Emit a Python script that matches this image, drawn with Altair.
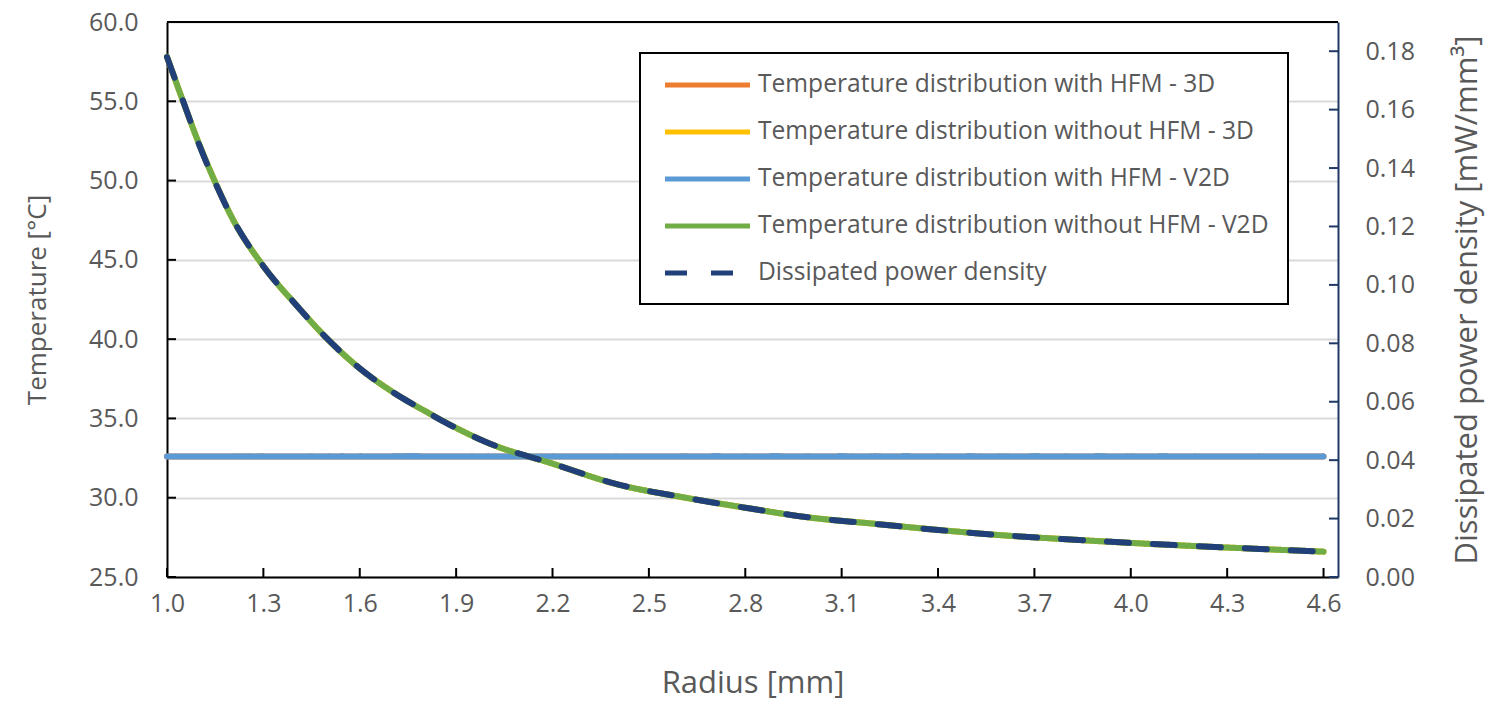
import altair as alt
import pandas as pd

# ---------------- data ----------------
radius = [1.0, 1.05, 1.1, 1.15, 1.2, 1.3, 1.4, 1.5, 1.6, 1.7, 1.8, 1.9, 2.0,
          2.2, 2.4, 2.6, 2.8, 3.0, 3.2, 3.4, 3.6, 3.8, 4.0, 4.2, 4.4, 4.6]

temp_without_v2d = [57.8, 55.0, 52.3, 49.9, 47.75, 44.6, 42.2, 40.0, 38.15, 36.7,
                    35.5, 34.4, 33.45, 32.15, 30.85, 30.05, 29.37, 28.75, 28.36,
                    27.97, 27.63, 27.38, 27.15, 26.95, 26.77, 26.6]
temp_without_3d = [57.8, 55.0, 52.3, 49.9, 47.75, 44.6, 42.2, 40.0, 38.15, 36.7,
                   35.5, 34.4, 33.45, 32.15, 30.85, 30.05, 29.37, 28.75, 28.36,
                   27.97, 27.63, 27.38, 27.15, 26.95, 26.77, 26.6]
temp_with_v2d = [32.6] * len(radius)
temp_with_3d = [32.6] * len(radius)

power_density = [0.178, 0.163, 0.148, 0.135, 0.1235, 0.1064, 0.0934, 0.0814,
                 0.0714, 0.0635, 0.057, 0.051, 0.0459, 0.0388, 0.0318, 0.0274,
                 0.0237, 0.0204, 0.0182, 0.0161, 0.0143, 0.0129, 0.0117,
                 0.0106, 0.0096, 0.0087]

series = ["Temperature distribution with HFM - 3D",
          "Temperature distribution without HFM - 3D",
          "Temperature distribution with HFM - V2D",
          "Temperature distribution without HFM - V2D",
          "Dissipated power density"]
colors = ["#ED7D31", "#FFC000", "#5B9BD5", "#70AD47", "#213F78"]
dashes = [[1, 0], [1, 0], [1, 0], [1, 0], [22, 24]]

x_ticks = [1.0, 1.3, 1.6, 1.9, 2.2, 2.5, 2.8, 3.1, 3.4, 3.7, 4.0, 4.3, 4.6]
t_ticks = [25, 30, 35, 40, 45, 50, 55, 60]
p_ticks = [0.0, 0.02, 0.04, 0.06, 0.08, 0.10, 0.12, 0.14, 0.16, 0.18]

# ---------------- tables ----------------
temp_rows = []
for s, vals in zip(series[:4], [temp_with_3d, temp_without_3d, temp_with_v2d, temp_without_v2d]):
    for r, v in zip(radius, vals):
        temp_rows.append({"radius": r, "value": v, "series": s})
temp_df = pd.DataFrame(temp_rows)
power_df = pd.DataFrame({"radius": radius, "value": power_density, "series": series[4]})

W, H = 1171, 555
FONT = "Open Sans"
GRAY = "#595959"
NAVY = "#203864"

xscale = alt.Scale(domain=[1.0, 4.645], nice=False, zero=False)
tscale = alt.Scale(domain=[25, 60], nice=False, zero=False)
pscale = alt.Scale(domain=[0, 0.19], nice=False, zero=True)
cscale = alt.Scale(domain=series, range=colors)
dscale = alt.Scale(domain=series, range=dashes)

legend = alt.Legend(title=None, orient="none", legendX=473, legendY=31,
                    symbolType="M-0.667,0H7.43", symbolSize=441, symbolStrokeWidth=5,
                    labelFont=FONT, labelFontSize=24.6, labelColor=GRAY,
                    labelOffset=73, labelLimit=0, padding=19, rowPadding=22,
                    strokeColor="black", fillColor="white")

xaxis = alt.Axis(values=x_ticks, format=".1f", title="Radius [mm]", grid=False,
                 ticks=False, labelPadding=14, titlePadding=52, labelFlush=False,
                 domainColor="black", domainWidth=2,
                 labelFont=FONT, labelFontSize=25, labelColor=GRAY,
                 titleFont=FONT, titleFontSize=31, titleColor=GRAY, titleFontWeight="normal")

taxis = alt.Axis(values=t_ticks, format=".1f", title="Temperature [°C]", grid=True,
                 gridColor="#D9D9D9", gridWidth=2, ticks=False, labelPadding=29,
                 titlePadding=38, domainColor="black", domainWidth=2, labelFlush=False,
                 labelFont=FONT, labelFontSize=25, labelColor=GRAY,
                 titleFont=FONT, titleFontSize=26, titleColor=GRAY, titleFontWeight="normal")

paxis = alt.Axis(values=p_ticks, format=".2f", title="Dissipated power density [mW/mm³]",
                 orient="right", grid=False, ticks=False, labelPadding=27, labelFlush=False,
                 titlePadding=69, titleAngle=270, domainColor=NAVY, domainWidth=2,
                 labelFont=FONT, labelFontSize=25, labelColor=GRAY,
                 titleFont=FONT, titleFontSize=31, titleColor=GRAY, titleFontWeight="normal")

temp_lines = alt.Chart(temp_df).mark_line(strokeWidth=6, strokeCap="round", interpolate="monotone").encode(
    x=alt.X("radius:Q", scale=xscale, axis=xaxis),
    y=alt.Y("value:Q", scale=tscale, axis=taxis),
    color=alt.Color("series:N", scale=cscale, legend=legend, sort=series),
    strokeDash=alt.StrokeDash("series:N", scale=dscale, legend=legend, sort=series),
    order=alt.Order("radius:Q"),
    detail="series:N",
)

left_ticks = alt.Chart(pd.DataFrame({"value": t_ticks})).mark_rule(color="black", strokeWidth=2).encode(
    y=alt.Y("value:Q", scale=tscale, axis=taxis), x=alt.value(0), x2=alt.value(9))
bottom_ticks = alt.Chart(pd.DataFrame({"radius": x_ticks})).mark_rule(color="black", strokeWidth=2).encode(
    x=alt.X("radius:Q", scale=xscale, axis=xaxis), y=alt.value(H), y2=alt.value(H - 9))
top_border = alt.Chart(pd.DataFrame({"a": [0]})).mark_rule(color="black", strokeWidth=2).encode(
    x=alt.value(0), x2=alt.value(W), y=alt.value(0))

power_line = alt.Chart(power_df).mark_line(strokeWidth=6, strokeCap="round", interpolate="monotone").encode(
    x=alt.X("radius:Q", scale=xscale, axis=xaxis),
    y=alt.Y("value:Q", scale=pscale, axis=paxis),
    color=alt.Color("series:N", scale=cscale, legend=legend, sort=series),
    strokeDash=alt.StrokeDash("series:N", scale=dscale, legend=legend, sort=series),
)
right_ticks = alt.Chart(pd.DataFrame({"value": p_ticks})).mark_rule(color=NAVY, strokeWidth=2).encode(
    y=alt.Y("value:Q", scale=pscale, axis=paxis), x=alt.value(W - 9), x2=alt.value(W))

left = alt.layer(left_ticks, bottom_ticks, top_border, temp_lines)
right = alt.layer(right_ticks, power_line)

chart = alt.layer(left, right).resolve_scale(y="independent").properties(
    width=W, height=H,
    autosize=alt.AutoSizeParams(type="none"),
    padding={"left": 159, "top": 14, "right": 151, "bottom": 125},
).configure_view(stroke=None).configure_legend(strokeWidth=2)

chart.save("out.html", embed_options={"renderer": "svg", "actions": False})
